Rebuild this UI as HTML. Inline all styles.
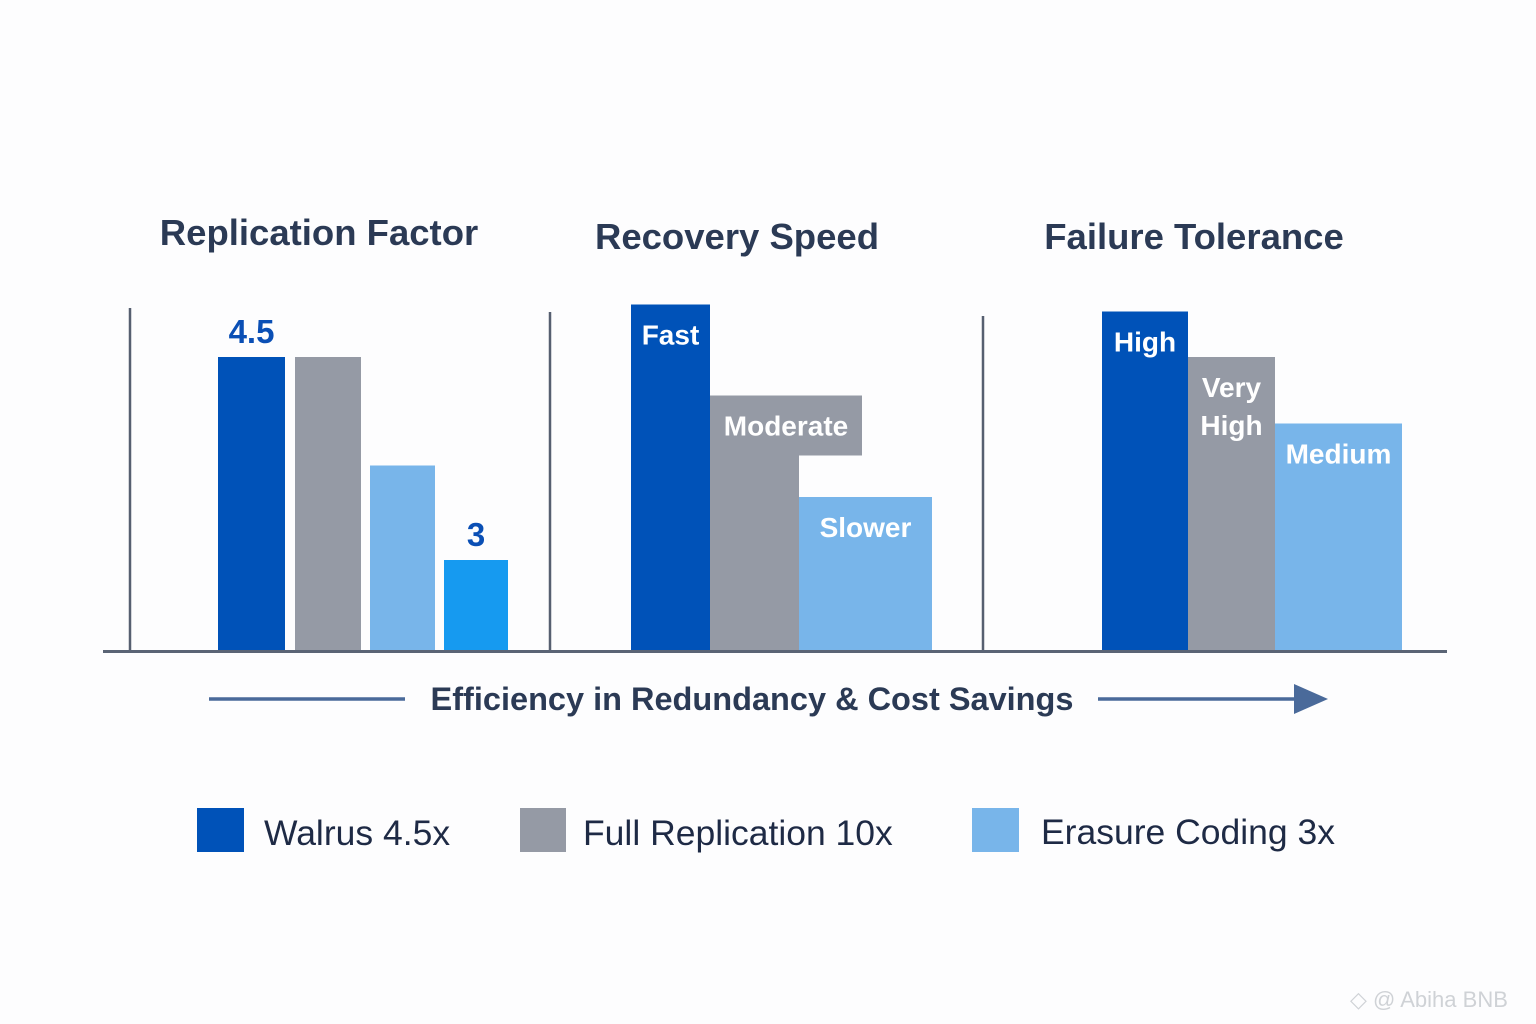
<!DOCTYPE html>
<html><head><meta charset="utf-8"><style>
body{margin:0;background:#fdfdfe;}
svg{display:block;font-family:"Liberation Sans",sans-serif;}
</style></head><body>
<svg id="chart" width="1536" height="1024" viewBox="0 0 1536 1024" xmlns="http://www.w3.org/2000/svg">
<rect width="1536" height="1024" fill="#fdfdfe"/>
<g id="marks"></g>
<g font-weight="bold" fill="#2b3a55" font-size="36.5" text-anchor="middle">
<text x="319" y="245">Replication Factor</text>
<text x="737" y="249">Recovery Speed</text>
<text x="1194" y="249">Failure Tolerance</text>
</g>
<g stroke="#565f70" stroke-width="2.5">
<line x1="130" y1="308" x2="130" y2="651"/>
<line x1="550" y1="312" x2="550" y2="651"/>
<line x1="983" y1="316" x2="983" y2="651"/>
</g>
<line x1="103" y1="651.5" x2="1447" y2="651.5" stroke="#5a6475" stroke-width="3"/>
<g>
<line x1="209" y1="699" x2="405" y2="699" stroke="#4a6a9a" stroke-width="3.5"/>
<line x1="1098" y1="699" x2="1300" y2="699" stroke="#4a6a9a" stroke-width="3.5"/>
<polygon points="1294,684 1328,699 1294,714" fill="#4a6a9a"/>
<text x="752" y="710" text-anchor="middle" font-size="32.5" font-weight="bold" fill="#2b3a55">Efficiency in Redundancy &amp; Cost Savings</text>
</g>
<g font-size="35.5" fill="#1e2a45">
<rect x="197" y="808" width="47" height="44" fill="#0052b8"/>
<text x="264" y="845">Walrus 4.5x</text>
<rect x="520" y="808" width="46" height="44" fill="#959aa5"/>
<text x="583" y="845">Full Replication 10x</text>
<rect x="972" y="808" width="47" height="44" fill="#78b5ea"/>
<text x="1041" y="844">Erasure Coding 3x</text>
</g>
<text x="1350" y="1007" font-size="22" fill="#cfd2d6">◇ @ Abiha BNB</text>
</svg>
<script>
// Panel 1: replication factor (relative bar heights, 0-100)
const p1Values = [84, 84, 53, 26];
const p1Labels = ["4.5", "", "", "3"];
// Panel 2: recovery speed
const p2Values = [99, 73, 44];
const p2Labels = ["Fast", "Moderate", "Slower"];
// Panel 3: failure tolerance
const p3Values = [97, 84, 65];
const p3Labels = ["High", "Very|High", "Medium"];

const base = 651, pxPerUnit = 3.5;
function yOf(v){ return base - v * pxPerUnit; }
const NS = "http://www.w3.org/2000/svg";
const g = document.getElementById("marks");
function mk(tag, attrs){ const e=document.createElementNS(NS,tag); for(const k in attrs) e.setAttribute(k,attrs[k]); g.appendChild(e); return e; }

const p1X = [[218,285],[295,361],[370,435],[444,508]];
const p1Col = ["#0052b8","#959aa5","#78b5ea","#169af0"];
p1Values.forEach((v,i)=>{
  const r = mk("rect",{x:p1X[i][0],y:yOf(v),width:p1X[i][1]-p1X[i][0],height:base-yOf(v),fill:p1Col[i]});
  
  
  if(p1Labels[i]){
    const t = mk("text",{x:(p1X[i][0]+p1X[i][1])/2,y:yOf(v)-14,"text-anchor":"middle","font-size":"33","font-weight":"bold",fill:"#0a4fb5"});
    t.textContent = p1Labels[i];
    
    
  }
});

const p2X = [[631,710],[710,799],[799,932]];
const col3 = ["#0052b8","#959aa5","#78b5ea"];
p2Values.forEach((v,i)=>{
  const r = mk("rect",{x:p2X[i][0],y:yOf(v),width:p2X[i][1]-p2X[i][0],height:base-yOf(v),fill:col3[i]});
  
  
  let cx = (p2X[i][0]+p2X[i][1])/2;
  if(i===1){
    const box = mk("rect",{x:710,y:yOf(v),width:152,height:60,fill:col3[i]});
    
    
    cx = 786;
  }
  const t = mk("text",{x:cx,y:yOf(v)+40,"text-anchor":"middle","font-size":"28","font-weight":"bold",fill:"#ffffff"});
  t.textContent = p2Labels[i];
  
  
});

const p3X = [[1102,1188],[1188,1275],[1275,1402]];
p3Values.forEach((v,i)=>{
  const r = mk("rect",{x:p3X[i][0],y:yOf(v),width:p3X[i][1]-p3X[i][0],height:base-yOf(v),fill:col3[i]});
  
  
  const lines = p3Labels[i].split("|");
  lines.forEach((ln,j)=>{
    const t = mk("text",{x:(p3X[i][0]+p3X[i][1])/2,y:yOf(v)+40+j*38,"text-anchor":"middle","font-size":"28","font-weight":"bold",fill:"#ffffff"});
    t.textContent = ln;
    
    
  });
});
</script>
</body></html>
